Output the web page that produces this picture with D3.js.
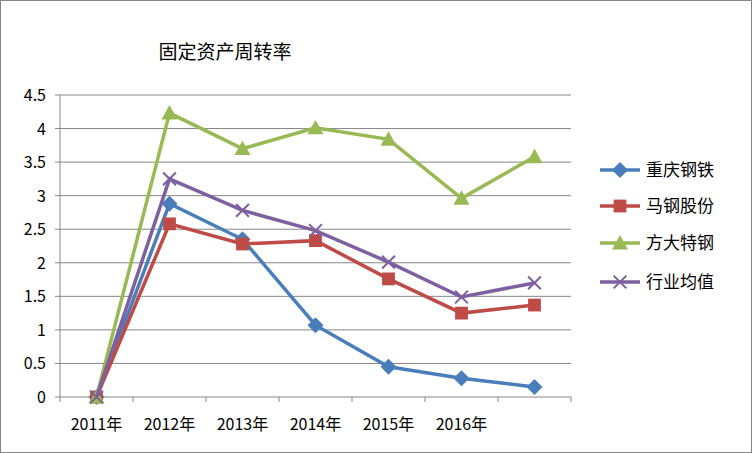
<!DOCTYPE html>
<html><head><meta charset="utf-8">
<script src="https://cdn.jsdelivr.net/npm/d3@7"></script>
<style>body{margin:0;background:#fff}text{font-family:"Noto Sans CJK SC",sans-serif}</style>
</head><body><div id="viz"></div>
<script>
const width = 752, height = 453;
const margin = {top: 95, left: 60, right: 181, bottom: 56};

const categories = ['2011年', '2012年', '2013年', '2014年', '2015年', '2016年', ''];
const seriesNames = ['重庆钢铁', '马钢股份', '方大特钢', '行业均值'];
const cq = [0, 2.88, 2.35, 1.07, 0.45, 0.28, 0.15];
const mg = [0, 2.58, 2.28, 2.33, 1.76, 1.25, 1.37];
const fd = [0, 4.23, 3.70, 4.01, 3.84, 2.96, 3.58];
const avg = [0, 3.25, 2.78, 2.48, 2.01, 1.49, 1.70];
const yTicks = [0, 0.5, 1, 1.5, 2, 2.5, 3, 3.5, 4, 4.5];

const colors = ['#4a7ebb', '#be4b48', '#98b954', '#7d60a0'];
const shapes = ['diamond', 'square', 'triangle', 'cross'];
const allSeries = [cq, mg, fd, avg];

const svg = d3.select('#viz').append('svg').attr('width', width).attr('height', height);
svg.append('rect').attr('x', 0.5).attr('y', 0.5).attr('width', width - 1).attr('height', height - 1)
  .attr('fill', '#fff').attr('stroke', '#868686');

const x = d3.scaleBand().domain(d3.range(categories.length)).range([margin.left, width - margin.right]);
const y = d3.scaleLinear().domain([0, 4.5]).range([height - margin.bottom, margin.top]);
const cx = i => x(i) + x.bandwidth() / 2;

svg.append('text').attr('x', 225).attr('y', 59).attr('text-anchor', 'middle')
  .attr('font-size', 19).text('固定资产周转率');

svg.selectAll('.grid').data(yTicks).join('line')
  .attr('x1', margin.left - 5).attr('x2', width - margin.right)
  .attr('y1', d => y(d)).attr('y2', d => y(d)).attr('stroke', '#868686');
svg.append('line').attr('x1', margin.left).attr('x2', margin.left)
  .attr('y1', y(4.5)).attr('y2', y(0)).attr('stroke', '#868686');
svg.selectAll('.xt').data(d3.range(categories.length + 1)).join('line')
  .attr('x1', i => margin.left + i * x.step()).attr('x2', i => margin.left + i * x.step())
  .attr('y1', y(0)).attr('y2', y(0) + 5).attr('stroke', '#868686');

svg.selectAll('.yl').data(yTicks).join('text')
  .attr('x', margin.left - 14).attr('y', d => y(d) + 6).attr('text-anchor', 'end')
  .attr('font-size', 16).text(d => d);
svg.selectAll('.xl').data(categories).join('text')
  .attr('x', (d, i) => cx(i)).attr('y', y(0) + 33).attr('text-anchor', 'middle')
  .attr('font-size', 16).text(d => d);

function marker(g, shape, color, px, py, s) {
  if (shape === 'diamond') g.append('path').attr('d', `M${px},${py - s}L${px + s},${py}L${px},${py + s}L${px - s},${py}Z`).attr('fill', color);
  else if (shape === 'square') g.append('rect').attr('x', px - s * 0.8).attr('y', py - s * 0.8).attr('width', s * 1.6).attr('height', s * 1.6).attr('fill', color);
  else if (shape === 'triangle') g.append('path').attr('d', `M${px},${py - s}L${px + s},${py + s * 0.8}L${px - s},${py + s * 0.8}Z`).attr('fill', color);
  else g.append('path').attr('d', `M${px - s * 0.8},${py - s * 0.8}L${px + s * 0.8},${py + s * 0.8}M${px + s * 0.8},${py - s * 0.8}L${px - s * 0.8},${py + s * 0.8}`).attr('stroke', color).attr('stroke-width', 2);
}

const line = d3.line().x((d, i) => cx(i)).y(d => y(d));
allSeries.forEach((vals, k) => {
  const g = svg.append('g');
  g.append('path').attr('d', line(vals)).attr('fill', 'none').attr('stroke', colors[k]).attr('stroke-width', 3.5);
  vals.forEach((v, i) => marker(g, shapes[k], colors[k], cx(i), y(v), 8));
});

const legendY = [170, 206, 243, 282];
seriesNames.forEach((n, k) => {
  const g = svg.append('g');
  g.append('line').attr('x1', 600).attr('x2', 640).attr('y1', legendY[k]).attr('y2', legendY[k])
    .attr('stroke', colors[k]).attr('stroke-width', 3.5);
  marker(g, shapes[k], colors[k], 620, legendY[k], 8);
  g.append('text').attr('x', 646).attr('y', legendY[k] + 6).attr('font-size', 17).text(n);
});
</script></body></html>
